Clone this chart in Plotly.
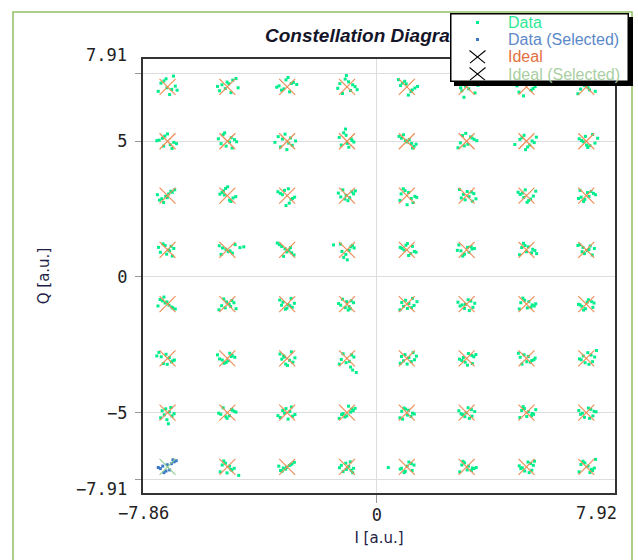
import plotly.graph_objects as go

# ---------------- data ----------------
levels = [-7, -5, -3, -1, 1, 3, 5, 7]
selected_ideal = (-7, -7)

# received symbols (Data), one line per constellation point, rows Q=7 .. Q=-7
data_i = [
    -7.22,-6.86,-7.05,-6.74,-7.31,-6.93,-7.12,-6.80,-7.02,-6.68,
    -5.18,-4.82,-5.26,-4.95,-5.07,-4.71,-5.33,-4.88,-5.01,-4.64,
    -3.11,-2.79,-3.27,-2.92,-3.04,-2.68,-3.19,-2.86,-3.35,-2.97,
    -1.24,-0.88,-1.06,-0.73,-1.15,-0.95,-1.31,-0.81,-1.02,-0.66,
    0.79,1.14,0.93,1.27,0.85,1.05,1.36,0.72,1.18,0.98,
    2.84,3.19,2.96,3.28,2.73,3.07,3.15,2.91,3.38,2.80,
    4.83,5.16,4.97,5.29,4.75,5.08,4.90,5.22,5.03,4.68,
    6.81,7.17,6.94,7.30,6.87,7.06,7.22,6.72,7.11,6.98,
    -7.28,-6.91,-7.09,-6.79,-7.17,-6.85,-7.36,-7.00,-6.70,-7.13,
    -5.21,-4.87,-5.04,-4.76,-5.14,-4.93,-5.30,-4.84,-5.09,-4.69,
    -3.16,-2.83,-3.30,-2.95,-3.07,-2.72,-3.22,-2.89,-3.41,-3.01,
    -1.19,-0.86,-1.03,-0.77,-1.26,-0.94,-1.11,-0.83,-0.99,-1.05,
    0.82,1.16,0.95,1.24,0.74,1.08,1.31,0.89,1.02,1.19,
    2.79,3.13,2.92,3.25,2.86,3.04,3.34,2.71,3.18,2.97,
    4.78,5.11,4.92,5.26,4.85,5.04,5.19,4.61,4.97,5.33,
    6.84,7.12,6.97,7.29,6.76,7.05,7.21,6.90,7.38,7.01,
    -7.19,-6.84,-7.06,-6.76,-7.27,-6.96,-7.13,-6.89,-7.01,-7.34,
    -5.13,-4.81,-5.25,-4.93,-5.06,-4.72,-5.18,-4.88,-4.99,-5.10,
    -3.23,-2.87,-3.09,-2.75,-3.16,-2.93,-3.31,-2.82,-3.04,-2.96,
    -1.21,-0.84,-1.07,-0.78,-1.14,-0.91,-1.29,-0.97,-1.03,-0.72,
    0.81,1.15,0.94,1.27,0.77,1.06,1.21,0.88,1.33,1.01,
    2.82,3.16,2.95,3.24,2.76,3.08,3.19,2.89,3.02,3.31,
    4.86,5.14,4.96,5.23,4.79,5.07,5.31,4.91,5.02,4.72,
    6.83,7.16,6.95,7.24,6.79,7.09,7.31,6.91,7.04,6.74,
    -7.24,-6.88,-7.03,-6.79,-7.15,-6.93,-7.30,-6.84,-7.08,-6.97,
    -5.16,-4.83,-5.27,-4.91,-5.05,-4.74,-5.21,-4.58,-4.97,-4.45,
    -3.18,-2.85,-3.07,-2.77,-3.26,-2.94,-3.12,-2.89,-3.01,-3.33,
    -1.17,-0.82,-1.04,-0.76,-1.22,-0.93,-1.11,-0.87,-0.99,-1.45,
    0.84,1.13,0.97,1.25,0.78,1.06,1.19,0.91,1.31,1.02,
    2.81,3.15,2.93,3.26,2.74,3.08,3.18,2.87,3.03,2.69,
    4.84,5.17,4.95,5.28,4.77,5.06,5.21,4.90,5.00,5.34,
    6.86,7.13,6.94,7.27,6.78,7.04,7.20,6.89,7.09,6.72,
    -7.17,-6.86,-7.08,-6.74,-7.25,-6.95,-7.12,-6.83,-7.02,-7.32,
    -5.19,-4.85,-5.07,-4.78,-5.28,-4.94,-5.12,-4.89,-5.03,-4.71,
    -3.14,-2.83,-3.25,-2.91,-3.06,-2.76,-3.19,-2.87,-3.01,-2.97,
    -1.21,-0.86,-1.06,-0.78,-1.15,-0.93,-1.28,-0.89,-1.01,-0.96,
    0.83,1.16,0.96,1.24,0.77,1.07,1.19,0.89,1.02,1.34,
    2.78,3.14,2.93,3.27,2.85,3.05,3.21,2.71,3.09,2.96,
    4.81,5.15,4.94,5.26,4.76,5.08,5.19,4.88,5.03,5.31,
    6.85,7.18,6.97,7.26,6.79,7.07,7.22,6.91,7.03,6.74,
    -7.21,-6.87,-7.05,-6.77,-7.14,-6.94,-7.29,-6.82,-7.01,-7.36,
    -5.17,-4.84,-5.04,-4.75,-5.26,-4.92,-5.11,-4.87,-4.98,-5.33,
    -3.12,-2.81,-3.24,-2.92,-3.05,-2.74,-3.18,-2.86,-2.99,-3.09,
    -1.19,-0.85,-1.03,-0.77,-1.13,-0.92,-1.26,-0.88,-0.81,-0.69,
    0.82,1.15,0.94,1.26,0.78,1.07,1.21,0.89,1.01,1.32,
    2.84,3.17,2.95,3.24,2.76,3.06,3.19,2.89,3.03,3.31,
    4.79,5.13,4.92,5.25,4.85,5.06,5.18,4.73,5.01,5.29,
    6.83,7.16,6.96,7.28,6.77,7.05,7.21,6.90,7.09,7.34,
    -7.18,-6.85,-7.06,-6.78,-7.23,-6.94,-7.11,-6.89,-7.02,-6.97,
    -5.22,-4.86,-5.05,-4.77,-5.14,-4.93,-5.29,-4.83,-5.01,-4.71,
    -3.15,-2.82,-3.04,-2.74,-3.23,-2.91,-3.09,-2.86,-3.31,-2.97,
    -1.18,-0.84,-1.07,-0.79,-1.13,-0.95,-1.26,-0.88,-1.01,-0.73,
    0.83,1.14,0.96,1.25,0.77,1.06,1.19,0.91,1.02,0.86,
    2.81,3.16,2.94,3.27,2.86,3.05,3.18,2.74,3.09,2.98,
    4.84,5.17,4.93,5.24,4.78,5.06,5.19,4.89,5.01,5.31,
    6.81,7.15,6.94,7.26,6.87,7.07,7.22,6.75,7.11,7.33,
    -5.17,-4.85,-5.06,-4.77,-5.24,-4.93,-5.12,-4.88,-5.01,-4.62,
    -3.13,-2.84,-3.22,-2.93,-3.05,-2.76,-3.17,-2.89,-3.02,-3.28,
    -1.19,-0.86,-1.04,-0.78,-1.13,-0.94,-1.25,-0.89,-1.02,-0.81,
    0.82,1.15,0.95,1.24,0.78,1.07,1.18,0.91,1.01,0.38,
    2.84,3.16,2.93,3.25,2.77,3.06,3.19,2.88,3.02,3.32,
    4.81,5.14,4.94,5.23,4.86,5.05,5.18,4.76,5.09,5.27,
    6.82,7.17,6.95,7.27,6.76,7.06,7.21,6.89,7.12,7.31,
]
data_q = [
    7.14,6.91,7.30,7.03,6.84,6.72,7.22,7.40,6.97,6.88,
    7.08,7.25,6.86,7.12,6.94,7.31,7.02,6.79,7.18,6.97,
    6.93,7.17,7.04,6.82,7.26,7.09,6.88,7.13,6.99,7.35,
    7.12,6.87,7.29,7.01,6.76,7.19,6.95,7.08,7.42,6.90,
    7.05,6.83,7.21,6.96,7.14,6.70,7.02,7.27,6.89,7.11,
    6.86,7.12,7.03,6.78,7.24,6.93,7.17,6.62,7.06,6.97,
    7.09,6.88,7.26,7.01,6.81,7.15,6.67,6.94,7.19,7.04,
    6.92,7.21,7.05,6.84,7.33,6.97,7.12,6.75,6.89,7.16,
    5.04,4.87,5.19,4.96,5.11,4.73,5.02,5.27,4.91,4.82,
    4.91,5.13,4.82,5.06,5.24,4.97,5.09,4.75,5.31,4.98,
    5.08,4.85,5.17,4.93,5.26,5.01,4.79,5.12,4.96,4.69,
    4.86,5.09,5.22,4.97,5.14,4.78,5.31,5.03,4.92,5.45,
    5.11,4.92,5.03,4.81,5.18,5.06,4.89,5.24,4.97,4.75,
    4.94,5.16,4.83,5.07,5.21,4.89,5.02,4.76,5.12,5.29,
    5.07,4.86,5.22,4.95,5.13,4.79,5.01,4.88,4.69,5.15,
    5.03,4.84,5.18,4.93,5.09,4.77,5.25,4.98,5.11,4.86,
    2.88,3.12,2.97,3.21,2.83,3.06,2.74,3.16,2.92,3.03,
    3.17,2.91,3.05,2.83,3.26,2.96,3.11,2.78,3.32,3.02,
    3.08,2.86,3.19,2.94,3.03,2.72,3.14,2.89,2.63,3.25,
    2.95,3.14,2.87,3.06,3.21,2.92,3.09,2.81,3.01,3.17,
    3.06,2.89,3.18,2.97,2.82,3.11,2.74,3.25,2.93,2.66,
    2.91,3.13,2.84,3.07,3.22,2.96,2.79,3.04,3.15,2.88,
    3.09,2.87,3.21,2.98,3.04,2.81,3.16,2.93,2.75,3.12,
    2.94,3.15,2.86,3.08,3.19,2.97,3.03,2.78,3.11,2.89,
    0.91,1.13,0.84,1.05,1.22,0.96,1.09,0.77,1.16,0.99,
    1.07,0.88,1.15,0.96,1.02,1.19,0.83,1.08,0.93,1.11,
    1.12,0.89,1.04,0.81,1.19,0.97,0.76,1.08,0.92,1.25,
    0.94,1.16,0.83,1.07,1.21,0.98,0.72,1.11,0.63,1.18,
    1.05,0.86,1.17,0.94,1.09,0.79,1.13,0.99,0.91,1.23,
    0.96,1.12,0.84,1.05,1.18,0.91,1.03,0.77,1.09,0.98,
    1.08,0.89,1.16,0.97,0.82,1.11,1.02,1.24,0.93,0.86,
    0.93,1.14,0.86,1.05,1.19,0.97,0.81,1.09,1.01,1.16,
    -0.88,-1.11,-0.96,-1.18,-0.83,-1.04,-0.74,-1.14,-0.92,-1.07,
    -1.06,-0.87,-1.14,-0.95,-1.21,-1.01,-0.81,-1.09,-0.92,-1.17,
    -0.93,-1.12,-0.85,-1.06,-1.19,-0.97,-1.04,-0.79,-1.15,-1.02,
    -1.04,-0.88,-1.13,-0.95,-0.82,-1.09,-0.98,-1.17,-0.91,-1.22,
    -0.94,-1.13,-0.86,-1.05,-1.21,-0.98,-0.79,-1.08,-1.16,-0.91,
    -1.07,-0.89,-1.16,-0.97,-1.03,-0.84,-1.12,-0.93,-1.24,-1.01,
    -0.95,-1.12,-0.86,-1.07,-1.18,-0.91,-1.03,-0.78,-1.14,-0.99,
    -1.08,-0.91,-1.17,-0.96,-1.03,-0.84,-1.12,-1.22,-0.93,-1.01,
    -2.94,-3.13,-2.85,-3.06,-3.19,-2.97,-2.78,-3.09,-3.22,-2.91,
    -3.06,-2.89,-3.15,-2.96,-3.02,-2.81,-3.18,-2.93,-3.09,-2.87,
    -2.91,-3.14,-2.84,-3.07,-3.21,-2.98,-3.03,-2.76,-3.26,-2.95,
    -3.04,-2.87,-3.16,-2.95,-2.83,-3.11,-3.21,-3.32,-3.43,-3.52,
    -2.93,-3.12,-2.86,-3.05,-3.18,-2.97,-2.79,-3.09,-3.21,-2.92,
    -3.08,-2.89,-3.14,-2.94,-3.03,-2.82,-3.19,-2.97,-3.25,-2.86,
    -2.96,-3.14,-2.87,-3.05,-3.21,-2.93,-3.08,-2.81,-3.12,-2.99,
    -3.05,-2.88,-3.16,-2.95,-3.02,-2.79,-3.12,-2.91,-3.22,-2.71,
    -4.93,-5.12,-4.86,-5.04,-5.19,-4.97,-5.08,-4.81,-5.26,-5.41,
    -5.06,-4.88,-5.15,-4.95,-4.82,-5.11,-5.02,-4.91,-5.21,-4.98,
    -4.92,-5.13,-4.85,-5.07,-5.18,-4.96,-5.02,-4.79,-5.11,-5.24,
    -5.07,-4.87,-5.16,-4.93,-5.03,-4.76,-5.21,-4.98,-5.12,-4.84,
    -4.95,-5.14,-4.87,-5.05,-5.19,-4.91,-5.02,-4.83,-5.09,-5.24,
    -5.04,-4.89,-5.15,-4.96,-5.07,-4.82,-5.13,-4.93,-5.21,-5.01,
    -4.92,-5.11,-4.85,-5.06,-5.18,-4.97,-5.03,-4.78,-5.14,-4.89,
    -5.06,-4.88,-5.17,-4.95,-5.02,-4.83,-5.12,-4.92,-5.21,-4.97,
    -6.93,-7.12,-6.86,-7.05,-7.18,-6.97,-6.78,-7.09,-7.22,-7.31,
    -7.04,-6.89,-7.13,-6.95,-7.08,-6.83,-7.16,-6.92,-7.01,-6.97,
    -6.94,-7.12,-6.86,-7.05,-7.17,-6.98,-7.03,-6.81,-7.09,-7.21,
    -7.05,-6.88,-7.16,-6.93,-7.08,-6.82,-7.13,-7.21,-6.97,-7.02,
    -6.93,-7.13,-6.85,-7.06,-7.18,-6.97,-7.04,-6.79,-7.11,-7.02,
    -7.06,-6.87,-7.15,-6.94,-7.03,-6.82,-7.12,-6.96,-7.21,-6.79,
    -6.91,-7.09,-6.85,-7.04,-7.18,-6.97,-7.13,-6.79,-7.21,-6.72,
]

# received symbols of the selected constellation point
sel_i = [-7.24, -6.87, -7.05, -6.78, -7.16, -6.93, -7.31, -6.82, -7.01, -6.71, -7.12]
sel_q = [-7.06, -6.88, -7.15, -6.81, -6.97, -7.11, -7.02, -6.74, -6.92, -6.77, -7.21]

# axis extent / labels
x_range = [-7.82, 7.96]
y_range = [-7.96, 8.03]
x_min_label, x_max_label = -7.86, 7.92
y_min_label, y_max_label = -7.91, 7.91
y_tick_vals = [-7.45, -5, 0, 5, 7.5]
y_tick_text = ["", "\u22125", "0", "5", ""]
x_tick_vals = [0]
x_tick_text = ["0"]

legend_names = ["Data", "Data (Selected)", "Ideal", "Ideal (Selected)"]
legend_text_colors = ["#2ee896", "#5b88c8", "#e2703e", "#a9cfa2"]

# ideal constellation built from the levels
ideal_i, ideal_q = [], []
for q in reversed(levels):
    for i in levels:
        if (i, q) != selected_ideal:
            ideal_i.append(i)
            ideal_q.append(q)

# ---------------- geometry helpers (figure pixels -> paper) ----------------
W, H = 638, 560
ML, MR, MT, MB = 143, 23, 59, 67
PW, PH = W - ML - MR, H - MT - MB


def px(xp):
    return (xp - ML) / PW


def py(yp):
    return (H - MB - yp) / PH


def fmt(v):
    s = f"{abs(v):.2f}"
    return ("\u2212" + s) if v < 0 else s


GREEN = "#00ee8c"
BLUE = "#3c78c8"
ORANGE = "#ee8a52"
SEL_X = "#8fd08f"

fig = go.Figure()
fig.add_trace(go.Scatter(
    x=data_i, y=data_q, mode="markers", name="Data", showlegend=False,
    marker=dict(symbol="square", size=3, color=GREEN, line=dict(width=0)),
))
fig.add_trace(go.Scatter(
    x=sel_i, y=sel_q, mode="markers", name="Data (Selected)", showlegend=False,
    marker=dict(symbol="square", size=3, color=BLUE, line=dict(width=0)),
))
fig.add_trace(go.Scatter(
    x=ideal_i, y=ideal_q, mode="markers", name="Ideal", showlegend=False,
    marker=dict(symbol="x-thin", size=16, color=ORANGE, line=dict(width=1.1, color=ORANGE)),
))
fig.add_trace(go.Scatter(
    x=[selected_ideal[0]], y=[selected_ideal[1]], mode="markers", name="Ideal (Selected)",
    showlegend=False,
    marker=dict(symbol="x-thin", size=16, color=SEL_X, line=dict(width=1.1, color=SEL_X)),
))

tick_font = dict(family="DejaVu Sans Mono", size=17, color="#222")
axis_common = dict(
    showline=True, mirror=True, linecolor="#333", linewidth=2,
    showgrid=True, gridcolor="#dddddd", gridwidth=1.3, zeroline=False,
    ticks="outside", tickcolor="#999", tickwidth=1.3, tickfont=tick_font,
    tickmode="array",
)

annotations = [
    dict(text=fmt(y_max_label), xref="paper", yref="paper", x=px(129), y=py(55),
         xanchor="right", yanchor="middle", showarrow=False, font=tick_font),
    dict(text=fmt(y_min_label), xref="paper", yref="paper", x=px(129), y=py(489),
         xanchor="right", yanchor="middle", showarrow=False, font=tick_font),
    dict(text=fmt(x_min_label), xref="paper", yref="paper", x=px(143), y=py(513),
         xanchor="center", yanchor="middle", showarrow=False, font=tick_font),
    dict(text=fmt(x_max_label), xref="paper", yref="paper", x=px(619), y=py(513),
         xanchor="right", yanchor="middle", showarrow=False, font=tick_font),
]

# ---- legend box (drawn as an annotation so that it sits above the title) ----
LEG_L, LEG_T, LEG_W, LEG_H = 450, 13, 179, 69
annotations.append(dict(
    text=" ", xref="paper", yref="paper", x=px(LEG_L), y=py(LEG_T),
    xanchor="left", yanchor="top", showarrow=False, width=LEG_W - 3, height=LEG_H - 3,
    bgcolor="white", bordercolor="black", borderwidth=1.5, borderpad=0,
    font=dict(size=1),
))
entry_y = [22.5, 40, 57, 74]
sym_x = 477.5
# legend symbols: small squares for data, thin black crosses for ideal
for k, c in enumerate([GREEN, BLUE]):
    annotations.append(dict(
        text=" ", xref="paper", yref="paper", x=px(sym_x), y=py(entry_y[k]),
        xanchor="center", yanchor="middle", showarrow=False, width=3, height=3,
        bgcolor=c, borderwidth=0, borderpad=0, font=dict(size=1),
    ))
for k in (2, 3):
    cy = entry_y[k]
    for sx in (1, -1):
        annotations.append(dict(
            text="", xref="paper", yref="paper",
            x=px(sym_x - 8 * sx), y=py(cy - 6.5),
            ax=16 * sx, ay=13, axref="pixel", ayref="pixel",
            showarrow=True, arrowhead=0, arrowwidth=1.1, arrowcolor="black",
            standoff=0, startstandoff=0, font=dict(size=1), borderpad=0,
        ))
for k, (name, col) in enumerate(zip(legend_names, legend_text_colors)):
    annotations.append(dict(
        text=name, xref="paper", yref="paper", x=px(506), y=py(entry_y[k]),
        xanchor="left", yanchor="middle", showarrow=False,
        font=dict(family="Liberation Sans", size=16, color=col),
    ))

fig.update_layout(
    width=W, height=H,
    margin=dict(l=ML, r=MR, t=MT, b=MB, pad=0),
    paper_bgcolor="white", plot_bgcolor="white",
    showlegend=False,
    title=dict(
        text="Constellation Diagram",
        font=dict(family="Liberation Sans", size=19, color="#15152a", weight="bold", style="italic"),
        x=px(265), xref="paper", xanchor="left",
        y=1 - 35.5 / H, yref="container", yanchor="middle",
    ),
    xaxis=dict(
        range=x_range, tickvals=x_tick_vals, ticktext=x_tick_text, ticklen=8,
        ticklabelstandoff=-2,
        title=dict(text="I [a.u.]", font=dict(family="DejaVu Sans", size=15, color="#1e1e46"), standoff=8),
        **axis_common,
    ),
    yaxis=dict(
        range=y_range, tickvals=y_tick_vals, ticktext=y_tick_text, ticklen=6,
        ticklabelstandoff=4,
        title=dict(text="Q [a.u.]", font=dict(family="DejaVu Sans", size=15, color="#1e1e46"), standoff=54),
        **axis_common,
    ),
    annotations=annotations,
    shapes=[
        # outer green frame
        dict(type="rect", xref="paper", yref="paper", x0=px(13), x1=px(632), y0=py(575), y1=py(12),
             line=dict(color="#92c064", width=1.5), fillcolor="rgba(0,0,0,0)", layer="above"),
        # legend drop shadow
        dict(type="rect", xref="paper", yref="paper",
             x0=px(LEG_L + 4), x1=px(LEG_L + LEG_W + 4), y0=py(LEG_T + LEG_H + 4), y1=py(LEG_T + 4),
             line=dict(width=0), fillcolor="black", layer="above"),
    ],
)

fig.write_html("out.html")
